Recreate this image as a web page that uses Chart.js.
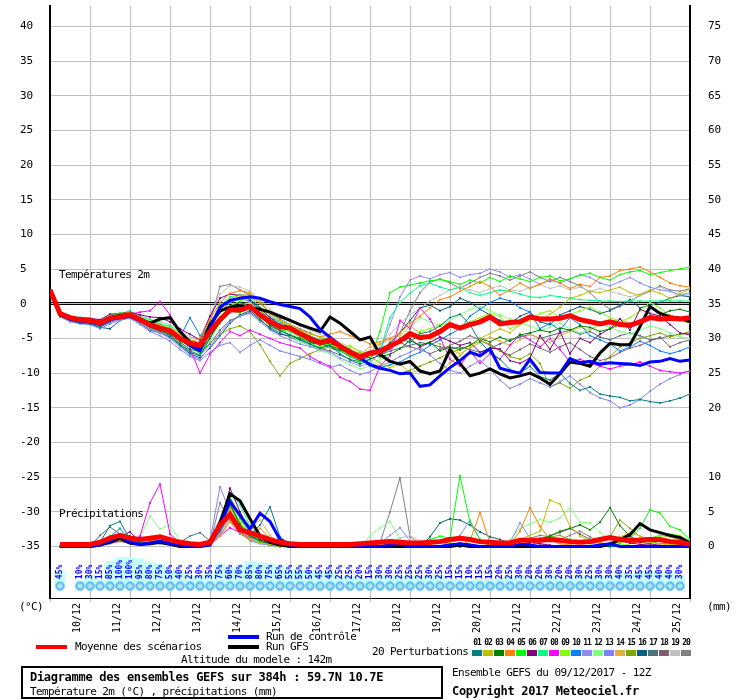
<!DOCTYPE html>
<html>
<head>
<meta charset="utf-8">
<title>Ensemble GEFS</title>
<script src="https://cdn.jsdelivr.net/npm/chart.js@4.4.1/dist/chart.umd.min.js"></script>
<style>
  body { margin: 0; background: #fff; }
  #wrap { position: relative; width: 740px; height: 700px; overflow: hidden;
          font-family: "DejaVu Sans Mono", monospace; color: #000; }
  #chart { position: absolute; left: 0; top: 0; }
  .t { position: absolute; white-space: nowrap; font-size: 11px; line-height: 12px; letter-spacing: -0.6px; }
  .b { font-weight: bold; font-size: 12px; letter-spacing: -0.3px; }
  .sw { position: absolute; width: 31px; height: 4px; }
  .sq { position: absolute; top: 650px; width: 10px; height: 6px; }
  .num { position: absolute; top: 639px; width: 11px; text-align: center; font-size: 8px; line-height: 8px;
         font-weight: bold; letter-spacing: -1px; white-space: nowrap; }
  #box { position: absolute; left: 21px; top: 666px; width: 422px; height: 33px; box-sizing: border-box; border: 2px solid #000; }
</style>
</head>
<body>
<div id="wrap">
  <canvas id="chart" width="740" height="700"></canvas>
  <div class="t" style="left:59px;top:269px">Températures 2m</div>
  <div class="t" style="left:59px;top:508px">Précipitations</div>
  <div class="t" style="left:19px;top:601px">(°C)</div>
  <div class="t" style="left:707px;top:601px">(mm)</div>

  <div class="sw" style="left:36px;top:645px;background:#ff0000"></div>
  <div class="t" style="left:75px;top:641px">Moyenne des scénarios</div>
  <div class="sw" style="left:228px;top:635px;background:#0000ff"></div>
  <div class="t" style="left:266px;top:631px">Run de contrôle</div>
  <div class="sw" style="left:228px;top:645px;background:#000000"></div>
  <div class="t" style="left:266px;top:641px">Run GFS</div>
  <div class="t" style="left:181px;top:654px">Altitude du modele : 142m</div>
  <div class="t" style="left:372px;top:646px">20 Perturbations</div>
  <div id="swatches"></div>

  <div id="box"></div>
  <div class="t b" style="left:30px;top:671px">Diagramme des ensembles GEFS sur 384h : 59.7N 10.7E</div>
  <div class="t" style="left:30px;top:686px">Température 2m (°C) , précipitations (mm)</div>
  <div class="t" style="left:452px;top:667px">Ensemble GEFS du 09/12/2017 - 12Z</div>
  <div class="t b" style="left:452px;top:685px">Copyright 2017 Meteociel.fr</div>
</div>

<script>
// time steps (hours since 09/12 12Z)
const hours = [0,6,12,18,24,30,36,42,48,54,60,66,72,78,84,90,96,102,108,114,120,126,132,138,144,150,156,162,168,174,180,186,192,198,204,210,216,222,228,234,240,246,252,258,264,270,276,282,288,294,300,306,312,318,324,330,336,342,348,354,360,366,372,378,384];
const dayTicks = [12,36,60,84,108,132,156,180,204,228,252,276,300,324,348,372];
const dayLabels = ['10/12','11/12','12/12','13/12','14/12','15/12','16/12','17/12','18/12','19/12','20/12','21/12','22/12','23/12','24/12','25/12'];
const tempTicks = [-35,-30,-25,-20,-15,-10,-5,0,5,10,15,20,25,30,35,40];
const mmTicks = [0,5,10,20,25,30,35,40,45,50,55,60,65,70,75];

// mean / control / GFS temperature (°C)
const meanTemp = [2.0,-1.4,-2.0,-2.3,-2.4,-2.8,-2.1,-1.9,-1.6,-2.3,
  -3.0,-3.5,-3.9,-5.0,-5.7,-6.0,-4.0,-2.3,-0.9,-0.9,
  -0.4,-1.6,-2.6,-3.3,-3.5,-4.3,-5.0,-5.6,-5.2,-6.1,
  -7.0,-7.7,-7.1,-6.9,-6.1,-5.4,-4.3,-4.9,-4.7,-4.0,
  -3.0,-3.5,-3.0,-2.6,-1.9,-2.9,-2.7,-2.6,-1.9,-2.2,
  -2.2,-2.1,-1.7,-2.3,-2.6,-2.9,-2.6,-3.0,-3.1,-2.6,
  -2.0,-2.2,-2.1,-2.2,-2.0];
const ctrlTemp = [2.0,-1.5,-2.2,-2.5,-2.6,-3.0,-2.3,-2.0,-1.8,-2.4,
  -3.0,-3.4,-4.0,-5.0,-6.0,-6.8,-3.5,-0.5,0.5,0.8,
  1.0,0.8,0.3,-0.1,-0.4,-0.7,-1.9,-3.7,-4.8,-6.0,
  -6.8,-7.8,-8.8,-9.3,-9.6,-10.1,-10.0,-11.9,-11.7,-10.4,
  -9.2,-8.2,-7.0,-7.5,-6.5,-9.3,-9.7,-10.0,-8.0,-9.9,
  -10.0,-10.0,-7.9,-8.5,-8.3,-8.7,-8.5,-8.6,-8.7,-8.9,
  -8.4,-8.3,-7.9,-8.3,-8.1];
const gfsTemp = [2.0,-1.6,-2.1,-2.3,-2.4,-2.7,-2.0,-1.7,-1.5,-2.2,
  -2.8,-2.2,-2.0,-4.0,-5.5,-6.5,-3.0,-1.0,-0.5,-0.3,
  -0.6,-0.8,-1.2,-1.8,-2.4,-3.0,-3.5,-4.0,-1.9,-2.8,
  -4.0,-5.2,-4.8,-7.3,-8.3,-8.7,-8.3,-9.7,-10.1,-9.7,
  -6.6,-8.6,-10.4,-10.0,-9.4,-10.1,-10.7,-10.4,-10.0,-10.7,
  -11.6,-10.1,-8.4,-8.6,-9.0,-7.1,-5.7,-5.9,-5.9,-3.3,
  -0.4,-1.4,-1.9,-2.1,-2.6];

// mean / control / GFS precipitation (mm per 6h)
const meanPrecip = [null,0.3,0.3,0.3,0.3,0.6,1.2,1.6,1.2,1.0,
  1.2,1.4,1.0,0.6,0.4,0.3,0.6,3.1,4.6,2.4,
  2.0,1.5,1.0,0.6,0.4,0.3,0.3,0.3,0.3,0.3,
  0.3,0.4,0.5,0.6,0.7,0.6,0.5,0.5,0.6,0.7,
  1.0,1.2,1.0,0.7,0.6,0.5,0.5,0.9,0.9,0.9,
  1.0,0.9,0.7,0.6,0.7,1.0,1.3,1.0,0.9,0.9,
  1.0,1.0,0.7,0.6,0.3];
const ctrlPrecip = [null,0,0,0,0,0.2,0.8,1.5,0.6,0.3,
  0.5,0.8,0.4,0.2,0,0,0.2,3.0,6.5,4.5,
  2.5,4.8,3.6,1.0,0.2,0,0,0,0,0,
  0,0,0,0,0.2,0.3,0,0,0,0,
  0.2,0.4,0.2,0,0,0,0,0.3,0.2,0,
  0,0,0,0,0,0.2,0.4,0,0,0,
  0,0,0,0,0];
const gfsPrecip = [null,0,0,0,0,0.2,0.6,1.2,0.5,0.3,
  0.4,0.6,0.3,0,0,0,0.5,3.5,7.6,6.6,
  4.0,1.5,0.6,0.2,0,0,0,0,0,0,
  0,0,0,0,0,0,0,0,0,0,
  0,0.2,0,0,0,0,0,0,0,0,
  0,0,0,0,0,0,0.3,1.0,1.7,3.3,
  2.4,2.0,1.6,1.3,0.5];

// 20 perturbations, temperature (°C)
const t01 = [2.0,-1.8,-2.4,-2.8,-2.9,-3.4,-2.6,-1.6,-1.8,-2.6,-3.2,-3.6,-4.6,-5.8,-7.0,-7.5,-5.0,-2.0,-0.4,0.2,-0.5,-1.8,-3.0,-3.8,-4.5,-5.2,-5.8,-6.4,-6.0,-7.2,-8.1,-8.7,-8.0,-7.4,-6.5,-5.0,-5.6,-4.3,-4.0,-3.2,-2.0,-1.5,-3.0,-5.5,-7.0,-8.0,-9.5,-10.0,-9.0,-10.5,-11.0,-10.0,-11.5,-12.5,-12.0,-13.0,-13.3,-13.5,-14.0,-13.8,-14.1,-14.3,-14.0,-13.6,-13.0];
const t02 = [2.0,-1.5,-2.1,-2.2,-2.3,-2.6,-1.9,-1.7,-1.4,-2.2,-2.7,-3.1,-3.5,-4.4,-5.2,-5.8,-3.2,-1.0,0.8,1.2,1.5,0.4,-1.4,-2.5,-3.0,-3.8,-4.3,-4.8,-5.5,-6.0,-6.5,-7.2,-7.6,-8.5,-9.2,-8.7,-10.0,-9.5,-10.3,-9.8,-8.5,-7.5,-6.2,-5.0,-4.3,-3.6,-4.2,-3.0,-2.0,-2.4,-1.5,-0.5,0.8,1.2,1.8,1.6,2.0,2.4,1.6,1.2,2.0,1.5,0.8,1.4,2.2];
const t03 = [2.0,-1.6,-2.3,-2.4,-2.5,-3.0,-2.3,-2.0,-1.7,-2.5,-3.4,-3.9,-4.4,-5.5,-6.6,-6.8,-4.9,-2.6,-1.2,-0.8,-0.2,-1.6,-3.2,-3.9,-4.5,-5.0,-5.5,-5.8,-6.1,-6.6,-7.2,-7.8,-7.0,-7.6,-7.3,-6.5,-5.3,-6.0,-5.5,-6.8,-6.2,-6.6,-6.0,-5.0,-5.5,-4.8,-5.4,-4.5,-4.2,-3.8,-4.1,-3.5,-3.8,-3.2,-3.4,-4.0,-3.6,-3.0,-3.4,-2.8,-2.2,-1.6,-1.0,-0.8,-1.2];
const t04 = [2.0,-1.4,-1.9,-2.1,-2.2,-2.5,-1.8,-1.5,-1.2,-2.0,-3.2,-3.9,-3.5,-4.3,-5.5,-5.0,-2.3,0.2,1.5,1.9,1.6,0.2,-1.4,-2.4,-3.3,-3.8,-4.3,-4.8,-4.4,-4.0,-4.6,-5.1,-5.8,-5.5,-5.0,-4.2,-2.8,-1.8,-0.6,0.6,1.0,1.8,2.5,3.2,2.5,1.2,2.0,3.0,2.2,2.8,3.6,3.0,2.2,2.8,2.5,3.8,4.0,4.8,5.0,5.3,4.6,3.8,3.0,2.6,2.4];
const t05 = [2.0,-1.3,-2.0,-2.4,-2.5,-2.7,-2.0,-1.3,-1.5,-2.1,-2.8,-3.3,-4.0,-5.3,-6.2,-7.2,-5.0,-2.8,-1.0,-1.3,-0.6,-2.0,-3.0,-3.7,-4.0,-4.8,-5.6,-6.3,-5.8,-6.8,-7.5,-8.4,-8.0,-4.0,1.6,2.4,2.7,3.0,3.3,3.5,3.2,2.8,3.4,3.0,3.8,3.2,4.0,3.6,3.2,3.8,4.0,3.3,3.6,4.1,4.4,3.8,3.4,4.2,4.6,4.8,4.2,4.5,4.8,5.0,5.3];
const t06 = [2.0,-1.5,-2.1,-2.0,-2.1,-2.3,-1.5,-1.4,-1.2,-1.6,-1.9,-2.0,-2.6,-3.6,-4.4,-5.2,-1.8,0.8,1.4,1.2,0.6,-0.6,-2.0,-3.0,-3.5,-4.2,-4.8,-5.4,-5.8,-6.2,-6.8,-7.2,-7.8,-6.5,-6.0,-5.4,-5.0,-6.2,-5.6,-4.8,-5.4,-6.0,-5.6,-7.0,-6.4,-6.5,-8.2,-8.6,-7.8,-4.6,-6.6,-4.0,-7.2,-5.0,-5.6,-4.4,-3.6,-2.2,-3.8,-0.8,-1.4,-1.8,-3.0,-4.2,-4.5];
const t07 = [2.0,-1.3,-1.8,-2.0,-2.1,-2.4,-1.7,-1.5,-1.0,-1.9,-2.3,-2.9,-3.2,-4.1,-5.2,-5.6,-3.0,-0.2,1.0,1.3,1.0,-0.5,-1.6,-2.8,-3.2,-4.0,-4.6,-5.2,-4.8,-6.4,-7.0,-7.8,-7.5,-6.8,-2.0,0.2,1.5,2.6,3.0,2.4,2.0,2.4,1.6,1.2,1.6,2.0,1.8,1.4,1.0,0.9,1.2,1.0,0.8,0.6,0.5,0.4,0.4,0.3,0.4,0.4,0.4,0.4,0.4,0.4,0.4];
const t08 = [2.0,-1.7,-2.2,-2.3,-2.3,-2.6,-2.0,-1.7,-1.5,-1.2,-1.0,0.3,-1.6,-4.0,-6.4,-10.0,-7.3,-5.6,-4.0,-4.6,-3.8,-4.4,-5.0,-5.6,-6.0,-6.4,-7.6,-8.4,-9.0,-10.6,-11.2,-12.3,-12.5,-9.0,-7.5,-2.4,-3.6,-0.6,-2.2,-4.8,-8.0,-9.0,-6.8,-8.6,-7.2,-8.0,-6.0,-4.4,-5.2,-6.2,-5.0,-6.6,-8.4,-8.0,-8.6,-9.0,-9.4,-9.0,-8.8,-8.4,-9.0,-9.6,-9.8,-10.0,-9.7];
const t09 = [2.0,-1.2,-1.9,-2.2,-2.2,-2.4,-1.8,-1.4,-1.3,-2.0,-2.6,-3.0,-3.6,-4.6,-5.8,-6.4,-4.5,-2.0,-0.3,0.4,0.8,-0.8,-2.2,-3.0,-3.4,-4.2,-4.8,-5.6,-6.0,-6.6,-6.0,-7.0,-7.4,-6.8,-6.2,-5.6,-4.8,-4.0,-3.6,-3.0,-2.8,-3.2,-2.6,-2.0,-1.4,-1.8,-3.6,-3.0,-2.4,-1.4,-1.0,-2.0,-1.6,-1.0,-0.5,-1.2,-2.0,-2.6,-2.0,-1.0,0.2,-0.6,-1.8,-2.4,-2.8];
const t10 = [2.0,-1.6,-2.2,-2.5,-2.6,-3.0,-2.4,-2.0,-1.8,-2.4,-2.8,-3.2,-3.6,-4.8,-2.0,-4.6,-3.2,-1.2,0.2,0.8,0.4,-0.8,-2.0,-2.6,-3.4,-4.0,-4.8,-5.4,-5.2,-6.0,-7.0,-7.6,-8.6,-9.2,-8.8,-8.4,-7.6,-7.0,-6.0,-5.2,-4.4,-3.6,-1.8,-0.8,0.2,0.8,0.4,-0.6,-1.2,-3.6,-2.8,-3.8,-2.0,-3.0,-4.6,-5.2,-5.8,-6.8,-6.2,-5.4,-6.0,-6.8,-7.2,-6.8,-6.2];
const t11 = [2.0,-1.8,-2.5,-2.8,-2.9,-3.3,-2.7,-2.2,-2.0,-2.8,-3.6,-4.2,-5.0,-6.2,-7.4,-8.0,-6.2,-4.2,-2.6,-1.8,-1.4,-2.6,-3.8,-4.6,-5.2,-5.8,-6.2,-6.6,-7.0,-7.8,-8.4,-9.0,-8.6,-7.0,-3.0,1.0,3.4,4.0,3.6,4.2,4.5,3.8,4.2,4.4,5.0,4.6,3.8,4.2,3.6,2.8,3.4,3.0,3.6,4.2,3.8,3.0,2.6,3.2,3.8,3.0,2.4,2.0,1.8,1.2,1.6];
const t12 = [2.0,-1.4,-2.0,-2.1,-2.2,-2.5,-1.9,-1.6,-1.4,-2.1,-2.5,-3.0,-3.3,-4.5,-5.2,-6.0,-3.8,-1.5,0.2,0.6,0.2,-1.2,-2.6,-3.6,-4.6,-5.4,-6.0,-6.8,-7.2,-8.0,-8.8,-9.4,-9.0,-8.0,-6.6,-5.0,-3.6,-2.0,-2.6,-3.2,-2.4,-1.6,-0.8,-0.4,-1.0,-1.6,-2.2,-2.8,-3.2,-3.8,-3.4,-2.8,-3.6,-4.2,-3.6,-3.0,-3.4,-4.0,-4.4,-3.8,-3.2,-3.6,-4.2,-4.8,-5.0];
const t13 = [2.0,-1.9,-2.6,-2.9,-3.0,-3.6,-2.9,-2.3,-2.1,-3.0,-4.0,-4.6,-5.4,-6.6,-7.6,-8.2,-7.0,-6.0,-5.6,-7.0,-6.0,-5.2,-6.0,-6.8,-7.2,-7.6,-8.0,-8.6,-9.2,-8.8,-9.6,-10.2,-9.8,-9.0,-8.4,-7.6,-7.0,-6.2,-7.4,-8.6,-9.6,-10.0,-9.0,-8.2,-9.4,-11.0,-12.2,-11.6,-10.8,-11.4,-12.0,-11.2,-10.4,-11.6,-12.8,-13.6,-14.0,-15.0,-14.6,-13.8,-12.6,-11.6,-10.8,-10.2,-9.6];
const t14 = [2.0,-1.6,-2.2,-2.3,-2.5,-2.8,-2.2,-1.8,-1.6,-2.6,-3.6,-3.0,-3.8,-5.2,-6.0,-6.4,-4.0,-2.0,-0.8,-0.4,0.2,-1.2,-2.6,-3.4,-3.8,-4.6,-5.0,-5.6,-6.4,-6.0,-6.8,-7.4,-6.2,-5.8,-5.2,-4.6,-3.2,-4.2,-5.0,-5.8,-6.6,-7.2,-6.4,-5.6,-4.8,-5.4,-6.0,-5.2,-4.4,-5.0,-5.6,-4.6,-4.0,-3.4,-3.8,-3.0,-2.6,-2.2,-2.8,-2.4,-1.8,-1.2,-1.6,-2.0,-2.4];
const t15 = [2.0,-1.5,-2.1,-2.4,-2.4,-2.9,-2.3,-1.8,-1.6,-2.4,-3.2,-3.7,-4.2,-5.0,-6.0,-7.2,-5.6,-4.4,-3.6,-3.2,-4.0,-5.9,-8.3,-10.4,-8.6,-7.9,-7.2,-6.6,-6.2,-6.6,-7.4,-8.0,-8.6,-9.0,-9.6,-10.0,-9.6,-9.0,-8.4,-7.8,-7.0,-6.6,-6.0,-5.4,-5.8,-6.8,-7.6,-8.0,-7.2,-8.6,-12.0,-11.4,-12.2,-11.0,-10.4,-9.0,-7.6,-6.2,-5.6,-5.0,-4.6,-4.2,-4.8,-4.4,-4.0];
const t16 = [2.0,-1.7,-2.4,-2.6,-2.8,-3.4,-3.6,-2.4,-2.0,-2.8,-3.8,-4.2,-4.8,-6.0,-7.2,-7.8,-6.4,-4.6,-2.8,-1.6,-1.0,-2.2,-3.6,-4.4,-4.6,-5.2,-5.8,-5.6,-6.4,-6.8,-7.6,-8.2,-7.6,-7.0,-5.6,-4.2,-2.4,-0.6,-0.2,-1.0,-0.4,0.8,0.2,-0.8,-1.6,-2.4,-2.8,-1.8,-1.2,-2.6,-3.0,-1.6,-1.0,-0.4,-0.8,-1.4,-1.0,-0.2,0.6,-0.6,-0.2,0.2,0.8,1.2,1.0];
const t17 = [2.0,-1.6,-2.3,-2.5,-2.6,-3.1,-2.5,-2.1,-1.8,-2.7,-3.5,-4.0,-4.6,-5.8,-6.8,-7.4,-5.8,-3.8,-2.4,-1.8,-1.2,-2.4,-3.4,-4.2,-4.8,-5.4,-6.0,-6.4,-6.8,-7.4,-8.0,-8.4,-8.0,-7.4,-6.8,-6.4,-6.0,-5.6,-5.8,-6.2,-6.6,-6.2,-6.6,-7.0,-6.4,-5.8,-5.2,-4.8,-4.4,-5.0,-4.6,-4.2,-3.8,-4.4,-4.0,-4.8,-5.2,-4.6,-4.2,-4.6,-5.2,-5.0,-4.6,-4.4,-4.2];
const t18 = [2.0,-1.5,-2.0,-2.3,-2.3,-2.6,-2.0,-1.6,-1.4,-2.2,-2.9,-3.4,-3.8,-4.8,-5.6,-6.4,-4.6,-2.4,-0.8,-0.2,0.4,-1.0,-2.2,-3.2,-3.8,-4.6,-5.4,-6.0,-5.6,-6.4,-7.2,-7.6,-7.2,-6.6,-6.0,-5.6,-6.2,-6.6,-7.2,-6.6,-6.0,-5.4,-4.6,-5.2,-6.0,-6.8,-7.4,-6.6,-5.8,-6.4,-7.0,-6.2,-5.6,-6.6,-7.6,-8.2,-7.8,-7.0,-6.4,-6.0,-5.4,-4.8,-6.2,-5.6,-5.2];
const t19 = [2.0,-1.3,-1.9,-2.0,-2.1,-2.3,-1.6,-1.5,-1.2,-1.8,-2.2,-2.6,-3.0,-3.8,-4.8,-5.0,-1.6,1.4,2.6,2.4,1.8,0.6,-0.8,-1.8,-2.4,-3.2,-3.8,-4.4,-5.0,-5.6,-6.2,-6.8,-7.4,-6.0,-4.4,-2.8,-1.6,-0.6,0.4,1.2,2.0,2.4,2.0,1.6,2.2,2.6,2.0,1.8,2.4,2.8,2.2,2.6,2.0,2.4,1.8,2.2,1.8,1.4,1.0,1.4,2.0,2.4,1.8,1.4,1.2];
const t20 = [2.0,-1.4,-2.0,-2.2,-2.3,-2.7,-2.1,-1.8,-1.5,-2.2,-2.8,-3.3,-3.8,-4.9,-6.0,-5.4,-2.6,2.5,2.8,2.0,1.2,0.0,-1.2,-2.2,-3.0,-3.6,-4.2,-4.8,-5.4,-6.2,-6.8,-7.4,-7.0,-6.4,-5.8,-4.2,-1.0,1.6,3.1,3.6,3.0,2.2,3.0,3.8,4.4,4.0,3.4,4.0,4.6,3.8,3.2,3.8,3.2,2.6,1.6,0.2,-0.8,-0.4,0.4,1.2,1.8,2.6,2.0,1.8,2.2];

// 20 perturbations, precipitation (mm per 6h)
const p01 = [null,0,0,0,0.2,0.6,3.0,3.6,1.0,0.5,0.6,0.8,0.3,0,0,0,0.3,2.5,5.0,3.0,1.5,3.1,5.7,1.4,0.3,0,0,0,0,0,0,0,0,0,0,0,0,0,0,0,0,0,0,0,0,0,0,0,0,0,0,0,0,0,0,0,0,0,0,0,0,0,0,0,0];
const p02 = [null,0,0,0,0.3,0.5,0.8,1.4,0.8,0.6,0.8,1.0,0.6,0.2,0,0,0.4,2.8,5.5,2.0,1.0,0.5,0.3,0,0,0,0,0,0,0,0,0,0,0,0,0,0,0,0.5,0.8,0.6,1.0,0.8,0.5,0.3,0.2,0.5,1.0,1.6,2.2,6.7,6.1,2.9,1.5,0.8,0.5,0.3,0.6,1.2,1.0,0.6,0.4,0.3,0.2,0];
const p03 = [null,0,0,0,0.2,0.4,1.0,1.2,0.6,0.4,0.5,0.6,0.4,0,0,0,0.5,3.0,6.2,3.2,1.6,0.8,0.3,0,0,0,0,0,0,0,0,0,0,0,0,0,0,0,0,0,0.3,0.5,0.3,0,0,0,0,0.2,0.5,1.0,1.5,2.2,2.6,3.1,2.4,3.5,5.6,3.0,1.5,0.6,0.4,0.8,0.5,0.3,0];
const p04 = [null,0,0,0,0,0.3,0.6,1.0,0.5,0.3,0.4,0.5,0.3,0,0,0,0.2,1.5,3.6,2.4,1.2,2.6,1.2,0.2,0,0,0,0,0,0,0,0,0,0,0,0,0,0,0.3,0.6,0.4,0.2,0.8,4.9,0.5,0,0.2,2.2,5.6,2.9,1.0,0.4,0.2,0,0,0,0,0,0,0,0,0,0,0,0];
const p05 = [null,0,0,0,0.2,0.5,1.6,1.2,0.7,0.5,0.6,0.8,0.4,0.2,0,0,0.6,3.6,7.2,4.0,2.0,0.8,0.3,0,0,0,0,0,0,0,0,0,0,0,0,0,0.3,0.5,1.0,1.5,1.2,10.2,3.5,1.0,0.2,0,0,0,0,0,0,0,0,0,0,0,0,0.4,1.2,2.6,5.3,4.8,2.9,2.4,1.0];
const p06 = [null,0,0,0,0,0.2,0.8,1.4,2.1,0.6,0.5,0.6,0.3,0,0,0,0.4,3.2,8.4,5.0,2.2,1.0,0.4,0,0,0,0,0,0,0,0,0,0,0,0,0,0,0,0,0,0,0,0,0,0,0,0,0.3,0.6,0.4,0.2,0,0,0,0,0,0.4,0.8,0.5,0.3,0.2,0.4,0.6,0.3,0];
const p07 = [null,0,0,0,0,0.3,0.6,1.0,0.6,0.4,0.5,0.6,0.3,0,0,0,0.5,3.4,7.8,6.0,3.0,1.2,0.4,0,0,0,0,0,0,0,0,0,0,0,0,0,0,0,0,0,0,0.3,0.2,0,0,0,0,0,0,0,0,0,0,0,0,0,0,0,0,0,0,0,0,0,0];
const p08 = [null,0,0,0,0,0.2,0.5,0.8,0.5,1.5,6.3,9.0,1.8,0.5,0,0,0.3,1.5,2.7,2.0,1.2,1.4,1.0,0.3,0,0,0,0,0,0,0,0,0,0,0,0,0,0,0,0,0,0,0,0,0,0,0,0,0,0,0,0,0,0,0,0,0,0,0,0,0,0,0,0,0];
const p09 = [null,0,0,0,0,0.3,0.8,1.2,0.6,0.4,0.5,0.7,0.4,0,0,0,0.4,3.0,6.5,3.5,1.8,0.8,0.3,0,0,0,0,0,0,0,0,0,0,0,0,0,0,0,0,0,0,0,0,0,0,0,0,0,0,0,0,0,0,0,0,0,0,0,0.4,0.8,1.2,1.5,1.8,1.6,0.8];
const p10 = [null,0,0,0,0,0.4,1.4,2.6,0.8,0.4,0.5,0.6,0.3,0,0,0,0.3,2.2,5.0,2.6,1.4,0.8,0.3,0,0,0,0,0,0,0,0,0,0,0,0,0,0,0,0,0,0,0,0,0,0,0,0,0,0,0,0,0,0,0,0,0,0,0,0,0,0,0,0,0,0];
const p11 = [null,0,0,0,0,0.2,0.5,0.9,0.5,0.3,0.4,0.5,0.3,0,0,0,0.3,2.0,4.5,2.2,1.0,0.5,0.2,0,0,0,0,0,0,0,0,0,0,0.5,1.6,2.7,0.8,0.3,0,0,0.8,1.6,3.8,1.0,0.3,0,0.5,3.4,1.2,0.4,0,0,0,0,0,0,0,0,0,0,0,0,0,0,0];
const p12 = [null,0,0,0,0,0.3,0.6,1.0,0.8,1.2,4.4,2.5,3.1,0.8,0,0,0.4,2.4,5.2,3.0,1.4,0.6,0.2,0,0,0,0,0,0,0,0,0,1.5,2.7,3.6,1.0,0.2,0,0,0,0,0,0,0,0,0,1.0,2.6,3.2,3.9,3.5,4.1,5.6,3.5,3.4,2.0,1.0,0.4,0,0,0,0,0,0,0];
const p13 = [null,0,0,0,0,0.2,0.4,0.8,0.5,0.3,0.4,0.5,0.3,0,0,0,0.8,8.6,5.0,2.0,0.8,0.4,0.2,0,0,0,0,0,0,0,0,0,0,0,0,0,0,0,0,0,0,0,0,0,0,0,0,0,0,0,0,0,0,0,0,0,0,0,0,0,0,0,0,0,0];
const p14 = [null,0,0,0,0,0.2,0.5,0.8,0.4,0.3,0.4,0.5,0.3,0,0,0,0.3,1.6,4.0,3.6,2.6,3.8,1.6,0.4,0,0,0,0,0,0,0,0,0,0,0,0,0,0,0,0,0,0,0,0,0,0,0,0,0,0,0,0,0,0,0,0,0.6,1.4,2.0,1.5,0.8,0.4,0.2,0,0];
const p15 = [null,0,0,0,0,0.2,0.5,0.8,0.4,0.3,0.4,0.5,0.3,0,0,0,0.4,2.6,5.8,3.2,1.6,0.6,0.2,0,0,0,0,0,0,0,0,0,0,0,0,0,0,0,0,0,0,0,0,0,0.3,0.5,0.6,0.8,1.0,1.2,1.4,1.6,1.0,0.6,0.4,0.6,1.4,3.8,2.6,1.4,1.2,1.6,1.4,1.0,0.4];
const p16 = [null,0,0,0,0,0.2,0.6,1.0,1.5,0.6,0.4,0.5,0.3,0,0,0,0.3,2.0,4.8,2.6,1.4,0.8,0.3,0,0,0,0,0,0,0,0,0,0,0,0,0,0,0,1.4,3.4,4.0,3.8,3.1,2.1,1.4,1.0,0.5,0.2,0,0,0,0,0,0,0,0,0,0,0,0,0,0,0,0,0];
const p17 = [null,0,0,0,0,1.6,2.8,1.8,0.6,0.4,0.5,0.4,0.3,0.6,1.5,2.0,0.8,2.4,6.0,3.0,1.4,0.6,0.2,0,0,0,0,0,0,0,0,0,0,0,0,0,0,0,0,0,0,0,0,0,0,0,0,0,0,0,0,0,0,0,0,0,0,0,0,0,0,0,0,0,0];
const p18 = [null,0,0,0,0,0.2,0.5,0.8,0.4,0.3,0.4,0.5,0.3,0,0,0,0.4,3.0,7.0,4.2,2.0,0.8,0.3,0,0,0,0,0,0,0,0,0,0,0,0,0,0,0,0,0,0,0,0,0,0,0,0,0,0,1.0,1.6,2.0,2.6,1.8,1.0,0.4,0,0,0,0,0,0,0,0,0];
const p19 = [null,0,0,0,0,0.2,0.4,0.7,0.4,0.3,0.3,0.4,0.2,0,0,0,0.3,1.8,4.2,2.4,1.2,0.5,0.2,0,0,0,0,0,0,0,0,0,0,0,0.5,1.2,1.6,0.8,0.2,0,0,0,0,0,0,0,0,0,0,0,0,0,0,0,0,0,0,0,0,0,0,0,0,0,0];
const p20 = [null,0,0,0,0,0.2,0.5,0.9,0.5,0.3,0.4,0.5,0.3,0,0,0,0.4,6.3,3.6,1.8,1.0,0.5,0.2,0,0,0,0,0,0,0,0,0,0,0.5,5.0,9.9,1.4,0.3,0,0,0,0,0,0,0,0,0.4,0.8,1.2,1.6,1.4,1.0,1.6,2.2,1.4,0.6,0.2,0,0,0,0,0,0,0,0];

const pertTemps = [t01,t02,t03,t04,t05,t06,t07,t08,t09,t10,t11,t12,t13,t14,t15,t16,t17,t18,t19,t20];
const pertPrecips = [p01,p02,p03,p04,p05,p06,p07,p08,p09,p10,p11,p12,p13,p14,p15,p16,p17,p18,p19,p20];
const pertColors = ['#008080','#c0c000','#008000','#ff8000','#00ff00','#800080','#00ff80','#ff00ff','#80ff00','#0080ff',
                    '#8c8cf4','#80ff80','#8080ff','#e0b040','#80a800','#006080','#507080','#806070','#c0c0c0','#808080'];

// probability of precipitation per 6h step (%)
const probHours = [6,12,18,24,30,36,42,48,54,60,66,72,78,84,90,96,102,108,114,120,126,132,138,144,150,156,162,168,174,180,186,192,198,204,210,216,222,228,234,240,246,252,258,264,270,276,282,288,294,300,306,312,318,324,330,336,342,348,354,360,366,372,378];
const probVals = [45,null,10,30,15,85,100,100,95,80,75,50,40,25,30,35,75,60,70,85,80,75,65,55,55,50,45,45,25,25,20,15,30,30,25,25,25,30,25,15,15,10,15,15,20,25,30,20,20,30,20,20,30,25,30,30,40,35,45,45,40,40,30];

// scale ranges (left °C, right mm share the same pixel grid, shifted by 35)
const Y_MIN = -42.43, Y_MAX = 43.0, MM_OFFSET = 35;
const PROB_MIN = -57.7, PROB_MAX = 2242;
const SNOW_ROW = -11.5;

// legend swatches
const sw = document.getElementById('swatches');
pertColors.forEach((c, i) => {
  const left = 472 + i * 11;
  sw.insertAdjacentHTML('beforeend',
    `<div class="num" style="left:${left - 0.5}px">${String(i + 1).padStart(2, '0')}</div>` +
    `<div class="sq" style="left:${left}px;background:${c}"></div>`);
});

Chart.defaults.font.family = '"DejaVu Sans Mono", monospace';
Chart.defaults.color = '#000';

const pts = arr => hours.map((h, i) => ({ x: h, y: arr[i] }));

const datasets = [
  { data: pts(meanTemp), yAxisID: 'y', borderColor: '#ff0000', borderWidth: 5, pointRadius: 0, order: 1 },
  { data: pts(meanPrecip), yAxisID: 'ymm', borderColor: '#ff0000', borderWidth: 5, pointRadius: 0, order: 1 },
  { data: pts(ctrlTemp), yAxisID: 'y', borderColor: '#0000ff', borderWidth: 3, pointRadius: 0, order: 2 },
  { data: pts(ctrlPrecip), yAxisID: 'ymm', borderColor: '#0000ff', borderWidth: 3, pointRadius: 0, order: 2 },
  { data: pts(gfsTemp), yAxisID: 'y', borderColor: '#000000', borderWidth: 3, pointRadius: 0, order: 3 },
  { data: pts(gfsPrecip), yAxisID: 'ymm', borderColor: '#000000', borderWidth: 3, pointRadius: 0, order: 3 }
];

pertTemps.forEach((arr, i) => {
  const style = { borderColor: pertColors[i], backgroundColor: pertColors[i], borderWidth: 1,
                  pointRadius: 1.3, pointStyle: 'rect', pointBorderWidth: 0, order: 10 };
  datasets.push(Object.assign({ data: pts(arr), yAxisID: 'y' }, style));
  datasets.push(Object.assign({ data: pts(pertPrecips[i]), yAxisID: 'ymm' }, style));
});

// snow symbols: blue disc with a pale flake on top
const snowPts = probHours.filter((h, i) => probVals[i] !== null).map(h => ({ x: h, y: SNOW_ROW }));
datasets.push({ data: snowPts, yAxisID: 'yp', showLine: false, pointStyle: 'star', pointRadius: 3,
                borderColor: '#c8f0ff', borderWidth: 1, order: 90 });
datasets.push({ data: snowPts, yAxisID: 'yp', showLine: false, pointStyle: 'circle', pointRadius: 4.6,
                backgroundColor: '#5cbcf0', borderColor: '#84d4fa', borderWidth: 1, order: 91 });
datasets.push({ type: 'bar', data: probHours.map((h, i) => ({ x: h, y: probVals[i] })), yAxisID: 'yp',
                backgroundColor: '#c4ffff', borderWidth: 0, barThickness: 10, order: 100 });

// double 0°C line
const zeroLine = {
  id: 'zeroLine',
  beforeDatasetsDraw(chart) {
    const { ctx, chartArea: a, scales: { y } } = chart;
    const y0 = Math.round(y.getPixelForValue(0));
    ctx.save();
    ctx.strokeStyle = '#000';
    ctx.lineWidth = 1;
    [y0 - 1.5, y0 + 0.5].forEach(py => {
      ctx.beginPath(); ctx.moveTo(a.left, py); ctx.lineTo(a.right, py); ctx.stroke();
    });
    ctx.restore();
  }
};

// vertical % labels above the snow row
const probLabels = {
  id: 'probLabels',
  afterDatasetsDraw(chart) {
    const { ctx, scales: { x, yp } } = chart;
    ctx.save();
    ctx.fillStyle = '#0000ff';
    ctx.font = 'bold 8px "DejaVu Sans Mono"';
    ctx.textAlign = 'left';
    ctx.textBaseline = 'middle';
    probHours.forEach((h, i) => {
      if (probVals[i] === null) return;
      ctx.save();
      ctx.translate(x.getPixelForValue(h) - 0.5, yp.getPixelForValue(0) - 4);
      ctx.rotate(-Math.PI / 2);
      ctx.fillText(probVals[i] + '%', 0, 0);
      ctx.restore();
    });
    ctx.restore();
  }
};

new Chart(document.getElementById('chart'), {
  type: 'line',
  data: { datasets },
  plugins: [zeroLine, probLabels],
  options: {
    responsive: false,
    animation: false,
    events: [],
    layout: { padding: { left: 20, right: 0, top: 0, bottom: 0 } },
    elements: { line: { tension: 0, fill: false } },
    plugins: { legend: { display: false }, tooltip: { enabled: false } },
    scales: {
      x: {
        type: 'linear', min: 0, max: 384, offset: false,
        afterBuildTicks: s => { s.ticks = dayTicks.map(v => ({ value: v })); },
        afterFit: s => { s.height = 102; s.paddingLeft = 0; s.paddingRight = 0; },
        grid: { color: '#c0c0c0', tickLength: 4, tickColor: '#c0c0c0' },
        border: { color: '#000', width: 1 },
        ticks: { autoSkip: false, minRotation: 90, maxRotation: 90, labelOffset: 7, padding: 1,
                 font: { size: 10 }, callback: (v, i) => dayLabels[i] }
      },
      y: {
        position: 'left', min: Y_MIN, max: Y_MAX,
        afterBuildTicks: s => { s.ticks = tempTicks.map(v => ({ value: v })); },
        afterFit: s => { s.width = 30; s.paddingTop = 0; s.paddingBottom = 0; },
        grid: { color: '#c0c0c0', drawTicks: false },
        border: { color: '#000', width: 2 },
        ticks: { crossAlign: 'far', padding: 0, font: { size: 11 } }
      },
      ymm: {
        position: 'right', min: Y_MIN + MM_OFFSET, max: Y_MAX + MM_OFFSET,
        afterBuildTicks: s => { s.ticks = mmTicks.map(v => ({ value: v })); },
        afterFit: s => { s.width = 50; s.paddingTop = 0; s.paddingBottom = 0; },
        grid: { drawOnChartArea: false, drawTicks: false },
        border: { color: '#000', width: 2 },
        ticks: { crossAlign: 'near', padding: 18, font: { size: 11 } }
      },
      yp: { display: false, position: 'right', min: PROB_MIN, max: PROB_MAX }
    }
  }
});
</script>
</body>
</html>
